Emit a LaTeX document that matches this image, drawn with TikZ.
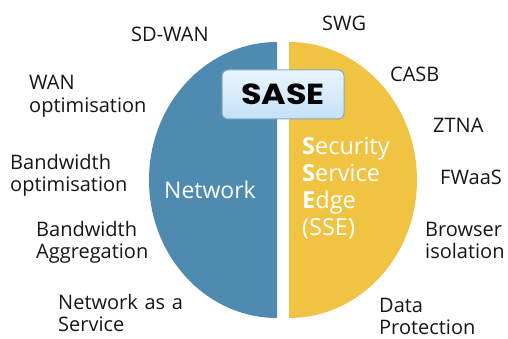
\documentclass[tikz,border=0pt]{standalone}
\usepackage{graphicx}
\usepackage{fontspec}
\setmainfont{Open Sans}
\newfontfamily\saseFont{Poppins}
\definecolor{netblue}{HTML}{4F8BB0}
\definecolor{sseyellow}{HTML}{F0C343}
\definecolor{boxedge}{HTML}{86ABC6}
\definecolor{boxtop}{HTML}{EAF5FE}
\definecolor{boxbot}{HTML}{C4E1F6}
\definecolor{labeltext}{HTML}{161616}
\tikzset{
  lbl/.style={anchor=base west, inner sep=0pt, text width=140pt, align=left,
    font=\fontsize{20}{22.5}\selectfont, text=labeltext},
  inlbl/.style={anchor=base west, inner sep=0pt, text width=130pt, align=left,
    font=\fontsize{23}{27}\selectfont, text=white},
  sasebox/.style={rectangle, rounded corners=6pt, draw=boxedge, line width=1pt,
    top color=boxtop, bottom color=boxbot, minimum width=122pt,
    minimum height=49pt, inner sep=0pt}
}
\begin{document}
\begin{tikzpicture}[x=1pt,y=-1pt]
\useasboundingbox (0,0) rectangle (508,339);
\fill[white] (0,0) rectangle (508,339);
% halves
\fill[netblue] (277,318) arc[start angle=90,end angle=270,x radius=128,y radius=138] -- cycle;
\fill[sseyellow] (289,42) arc[start angle=270,end angle=450,x radius=128,y radius=138] -- cycle;
% inner labels
\node[inlbl] (net) at (164,198) {Network};
\node[inlbl, font=\fontsize{23.5}{27}\selectfont] (sse) at (302,155)
  {\textbf{S}ecurity\\\textbf{S}ervice\\\textbf{E}dge\\(SSE)};
% SASE box
\node[sasebox] (sase) at (283,94.5)
  {\saseFont\bfseries\fontsize{29}{29}\selectfont\scalebox{1.15}[1]{SASE}};
% left labels
\node[lbl] (sdwan) at (131,42) {SD-WAN};
\node[lbl] (wanopt) at (29,90) {WAN\\optimisation};
\node[lbl] (bwopt) at (10,169) {Bandwidth\\optimisation};
\node[lbl] (bwagg) at (36,236) {Bandwidth\\Aggregation};
\node[lbl] (naas) at (58,309) {Network as a\\Service};
% right labels
\node[lbl] (swg) at (322,31) {SWG};
\node[lbl] (casb) at (390,82) {CASB};
\node[lbl] (ztna) at (433,133) {ZTNA};
\node[lbl] (fwaas) at (440,185) {FWaaS};
\node[lbl] (browser) at (425,236) {Browser\\isolation};
\node[lbl] (dp) at (379,312) {Data\\Protection};
\end{tikzpicture}
\end{document}
